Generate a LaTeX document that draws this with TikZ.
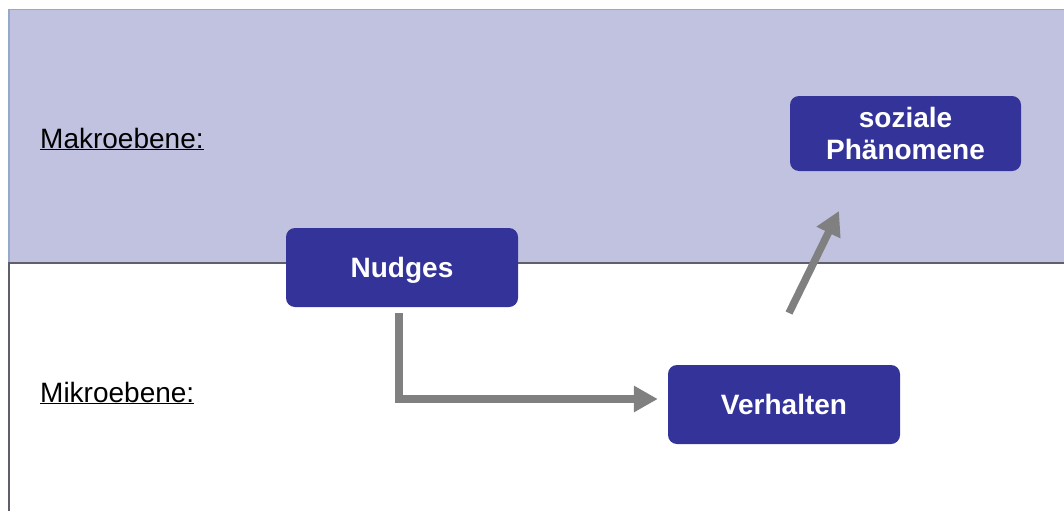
\documentclass[tikz,border=0pt]{standalone}
\usepackage{fontspec}
\setmainfont{Liberation Sans}
\usetikzlibrary{arrows.meta}
\definecolor{band}{HTML}{C0C2E0}
\definecolor{bandedge}{HTML}{95AACB}
\definecolor{rule}{HTML}{5F5F6B}
\definecolor{boxblue}{HTML}{333399}
\definecolor{arrowgray}{HTML}{808080}
\begin{document}
\begin{tikzpicture}[x=1pt,y=-1pt,
  levelbox/.style={draw=none,fill=boxblue,rounded corners=9pt,text=white,
    font=\fontsize{28}{32}\selectfont\bfseries,align=center,inner sep=0pt},
  onelinebox/.style={levelbox,text height=20.4pt,text depth=0pt},
  levellabel/.style={anchor=west,inner sep=0pt,font=\fontsize{28}{34}\selectfont},
  flow/.style={draw=arrowgray,line width=7.5pt,
    -{Triangle[length=24pt,width=25pt]}}]
  \useasboundingbox (0,0) rectangle (1064,511);
  % upper band (macro level)
  \fill[band] (8,9) rectangle (1064,262);
  \draw[bandedge,line width=1.2pt] (8,9.5) -- (1064,9.5);
  \draw[bandedge,line width=1.2pt] (9,9) -- (9,262);
  % lower area frame (micro level)
  \draw[rule,line width=2pt] (9,511) -- (9,263) -- (1064,263);
  % level labels
  \node[levellabel] (makro) at (40,139) {\underline{Makroebene:}};
  \node[levellabel] (mikro) at (40,393) {\underline{Mikroebene:}};
  % boxes
  \node[onelinebox,minimum width=232pt,minimum height=79pt] (nudges) at (402,267.5) {Nudges};
  \node[onelinebox,minimum width=232pt,minimum height=79pt] (verh) at (784,404.5) {Verhalten};
  \node[levelbox,minimum width=231pt,minimum height=75pt] (soz) at (905.5,133.5) {soziale\\Phänomene};
  % connectors
  \draw[flow] ([yshift=-6pt]nudges.south -| 399,0) -- (399,399) -- ([xshift=-10pt]verh.west |- 0,399);
  \draw[flow] (789,313) -- (839,211);
\end{tikzpicture}
\end{document}
